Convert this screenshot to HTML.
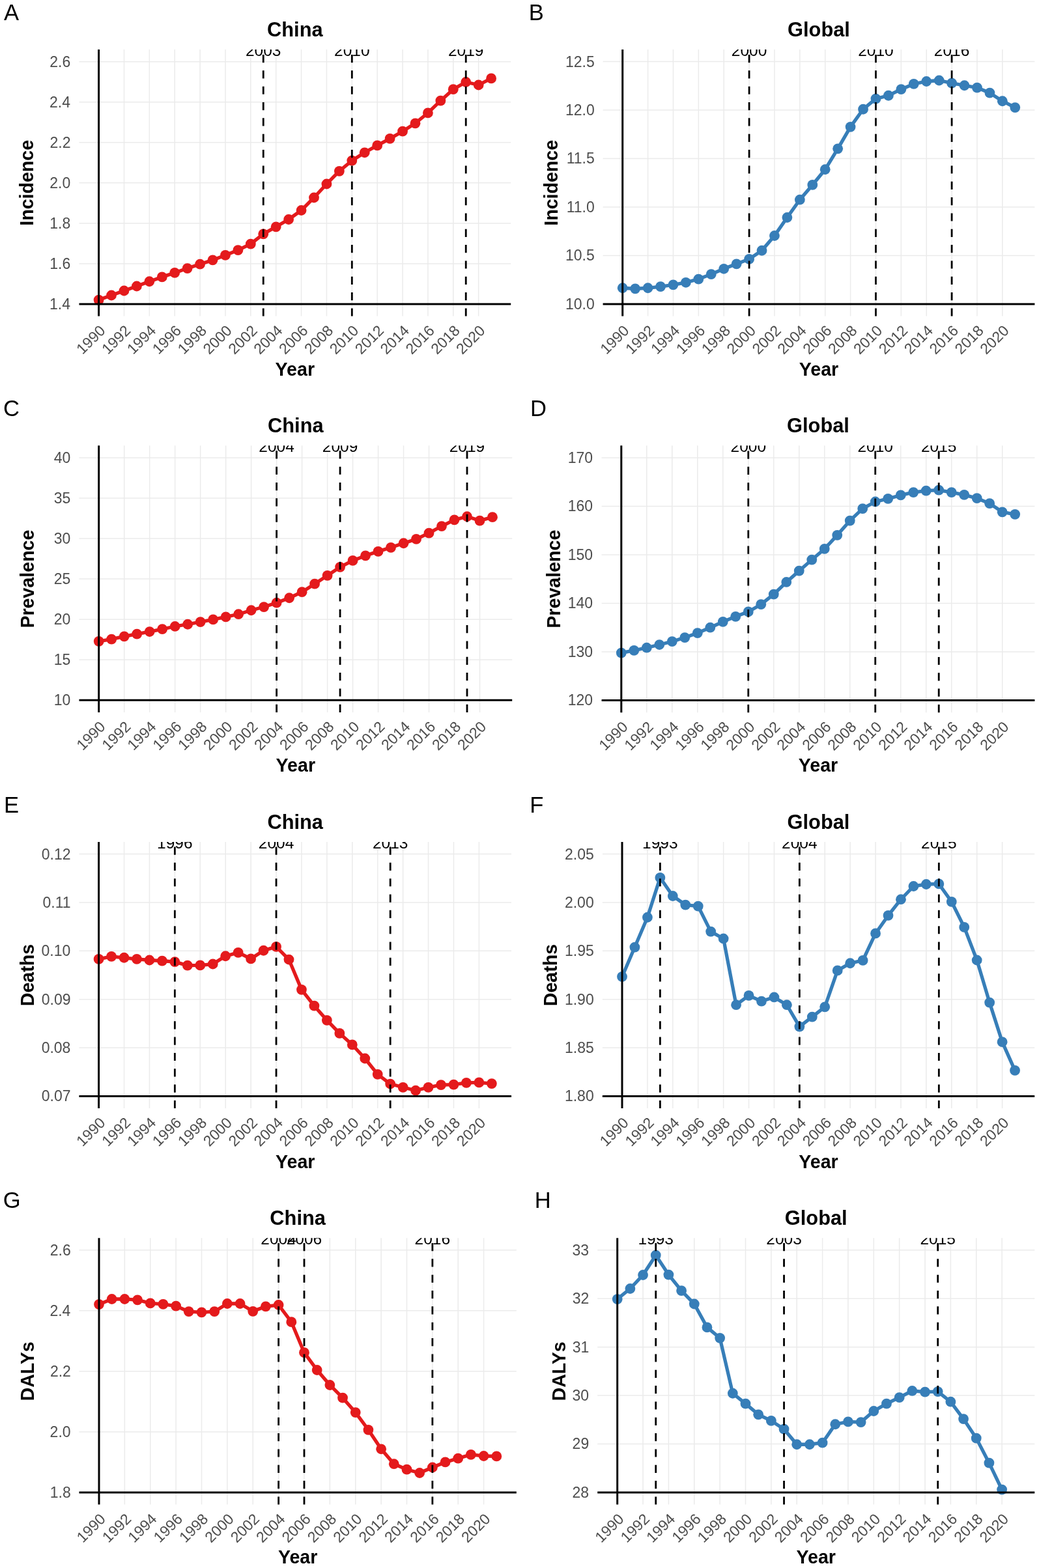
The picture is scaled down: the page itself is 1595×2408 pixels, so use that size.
<!DOCTYPE html>
<html><head><meta charset="utf-8"><title>Figure</title><style>html,body{margin:0;padding:0;background:#fff;overflow:hidden;}svg{display:block;}</style></head><body>
<svg width="1595" height="2408" viewBox="0 0 1595 2408" font-family="Liberation Sans, sans-serif">
<rect width="100%" height="100%" fill="#FFFFFF"/>
<defs><clipPath id="c0"><rect x="121.48" y="76.03" width="662.73" height="409.59"/></clipPath><clipPath id="c1"><rect x="925.57" y="75.98" width="662.84" height="409.64"/></clipPath><clipPath id="c2"><rect x="121.49" y="684.28" width="664.71" height="409.64"/></clipPath><clipPath id="c3"><rect x="923.58" y="684.27" width="664.81" height="409.86"/></clipPath><clipPath id="c4"><rect x="121.44" y="1293" width="663.59" height="409.09"/></clipPath><clipPath id="c5"><rect x="924.85" y="1293" width="663.35" height="409.09"/></clipPath><clipPath id="c6"><rect x="121.49" y="1901.19" width="671.33" height="409.42"/></clipPath><clipPath id="c7"><rect x="917.2" y="1901.19" width="671.09" height="409.42"/></clipPath></defs>
<g><path d="M121.48 467H784.21M121.48 404.94H784.21M121.48 342.88H784.21M121.48 280.82H784.21M121.48 218.77H784.21M121.48 156.71H784.21M121.48 94.65H784.21M151.6 76.03V485.62M190.47 76.03V485.62M229.34 76.03V485.62M268.21 76.03V485.62M307.08 76.03V485.62M345.95 76.03V485.62M384.82 76.03V485.62M423.69 76.03V485.62M462.56 76.03V485.62M501.43 76.03V485.62M540.3 76.03V485.62M579.17 76.03V485.62M618.04 76.03V485.62M656.91 76.03V485.62M695.78 76.03V485.62M734.65 76.03V485.62" stroke="#EBEBEB" stroke-width="1.5" fill="none"/><path d="M151.6 460.61 L171.03 453.5 L190.47 446.52 L209.9 439.51 L229.34 432.25 L248.77 425.42 L268.21 418.9 L287.64 412.08 L307.08 405.72 L326.51 399.36 L345.95 391.91 L365.38 384.15 L384.82 374.69 L404.25 359.33 L423.69 348.31 L443.12 336.99 L462.56 323.02 L482 303.48 L501.43 282.5 L520.87 262.83 L540.3 246.69 L559.74 234.28 L579.17 223.42 L598.61 212.87 L618.04 201.7 L637.47 189.29 L656.91 173.46 L676.35 154.69 L695.78 137.16 L715.22 125.99 L734.65 130.49 L754.09 120.4" stroke="#E41A1C" stroke-width="5.3" fill="none" stroke-linejoin="round" stroke-linecap="butt"/><g fill="#E41A1C"><circle cx="151.6" cy="460.61" r="7.9"/><circle cx="171.03" cy="453.5" r="7.9"/><circle cx="190.47" cy="446.52" r="7.9"/><circle cx="209.9" cy="439.51" r="7.9"/><circle cx="229.34" cy="432.25" r="7.9"/><circle cx="248.77" cy="425.42" r="7.9"/><circle cx="268.21" cy="418.9" r="7.9"/><circle cx="287.64" cy="412.08" r="7.9"/><circle cx="307.08" cy="405.72" r="7.9"/><circle cx="326.51" cy="399.36" r="7.9"/><circle cx="345.95" cy="391.91" r="7.9"/><circle cx="365.38" cy="384.15" r="7.9"/><circle cx="384.82" cy="374.69" r="7.9"/><circle cx="404.25" cy="359.33" r="7.9"/><circle cx="423.69" cy="348.31" r="7.9"/><circle cx="443.12" cy="336.99" r="7.9"/><circle cx="462.56" cy="323.02" r="7.9"/><circle cx="482" cy="303.48" r="7.9"/><circle cx="501.43" cy="282.5" r="7.9"/><circle cx="520.87" cy="262.83" r="7.9"/><circle cx="540.3" cy="246.69" r="7.9"/><circle cx="559.74" cy="234.28" r="7.9"/><circle cx="579.17" cy="223.42" r="7.9"/><circle cx="598.61" cy="212.87" r="7.9"/><circle cx="618.04" cy="201.7" r="7.9"/><circle cx="637.47" cy="189.29" r="7.9"/><circle cx="656.91" cy="173.46" r="7.9"/><circle cx="676.35" cy="154.69" r="7.9"/><circle cx="695.78" cy="137.16" r="7.9"/><circle cx="715.22" cy="125.99" r="7.9"/><circle cx="734.65" cy="130.49" r="7.9"/><circle cx="754.09" cy="120.4" r="7.9"/></g><g clip-path="url(#c0)"><g fill="#FFFFFF"><rect x="375.5" y="76.03" width="57.5" height="12"/><rect x="511.55" y="76.03" width="57.5" height="12"/><rect x="686.46" y="76.03" width="57.5" height="12"/></g><g font-size="24.5" text-anchor="middle" fill="#000000"><text x="404.25" y="86.03">2003</text><text x="540.3" y="86.03">2010</text><text x="715.22" y="86.03">2019</text></g></g><path d="M404.25 485.62V76.03M540.3 485.62V76.03M715.22 485.62V76.03" stroke="#000000" stroke-width="2.8" stroke-dasharray="12.17 12.17" fill="none"/><path d="M151.6 76.03V485.62M121.48 467H784.21" stroke="#000000" stroke-width="3.0" fill="none"/><g font-size="23.0" fill="#4D4D4D" text-anchor="end"><text x="107.97" y="474.91">1.4</text><text x="108.31" y="412.86">1.6</text><text x="108.3" y="350.8">1.8</text><text x="108.2" y="288.74">2.0</text><text x="108.46" y="226.8">2.2</text><text x="107.97" y="164.74">2.4</text><text x="108.31" y="102.57">2.6</text></g><g font-size="23.0" fill="#4D4D4D" text-anchor="end"><text transform="translate(163 509.12) rotate(-45)">1990</text><text transform="translate(201.87 509.12) rotate(-45)">1992</text><text transform="translate(240.74 509.12) rotate(-45)">1994</text><text transform="translate(279.61 509.12) rotate(-45)">1996</text><text transform="translate(318.48 509.12) rotate(-45)">1998</text><text transform="translate(357.35 509.12) rotate(-45)">2000</text><text transform="translate(396.22 509.12) rotate(-45)">2002</text><text transform="translate(435.09 509.12) rotate(-45)">2004</text><text transform="translate(473.96 509.12) rotate(-45)">2006</text><text transform="translate(512.83 509.12) rotate(-45)">2008</text><text transform="translate(551.7 509.12) rotate(-45)">2010</text><text transform="translate(590.57 509.12) rotate(-45)">2012</text><text transform="translate(629.44 509.12) rotate(-45)">2014</text><text transform="translate(668.31 509.12) rotate(-45)">2016</text><text transform="translate(707.18 509.12) rotate(-45)">2018</text><text transform="translate(746.05 509.12) rotate(-45)">2020</text></g><text x="452.84" y="55.9" font-size="30.8" font-weight="bold" text-anchor="middle">China</text><text x="452.84" y="577" font-size="28.6" font-weight="bold" text-anchor="middle">Year</text><text transform="translate(51.4 280.82) rotate(-90)" font-size="28.6" font-weight="bold" text-anchor="middle">Incidence</text><text x="6.03" y="30.9" font-size="34.6">A</text></g>
<g><path d="M925.57 467H1588.41M925.57 392.52H1588.41M925.57 318.04H1588.41M925.57 243.56H1588.41M925.57 169.08H1588.41M925.57 94.6H1588.41M955.7 75.98V485.62M994.58 75.98V485.62M1033.45 75.98V485.62M1072.33 75.98V485.62M1111.2 75.98V485.62M1150.08 75.98V485.62M1188.96 75.98V485.62M1227.83 75.98V485.62M1266.71 75.98V485.62M1305.58 75.98V485.62M1344.46 75.98V485.62M1383.34 75.98V485.62M1422.21 75.98V485.62M1461.09 75.98V485.62M1499.96 75.98V485.62M1538.84 75.98V485.62" stroke="#EBEBEB" stroke-width="1.5" fill="none"/><path d="M955.7 442.27 L975.14 443.32 L994.58 442.27 L1014.01 440.19 L1033.45 437.36 L1052.89 433.78 L1072.33 428.57 L1091.77 421.12 L1111.2 412.78 L1130.64 405.33 L1150.08 397.88 L1169.52 384.77 L1188.96 361.98 L1208.39 333.98 L1227.83 306.72 L1247.27 283.93 L1266.71 260.24 L1286.15 228.37 L1305.58 194.85 L1325.02 167.74 L1344.46 151.65 L1363.9 146.74 L1383.34 137.2 L1402.77 128.86 L1422.21 124.99 L1441.65 123.5 L1461.09 127.67 L1480.53 131.24 L1499.96 134.67 L1519.4 142.57 L1538.84 155.23 L1558.28 165.06" stroke="#377EB8" stroke-width="5.3" fill="none" stroke-linejoin="round" stroke-linecap="butt"/><g fill="#377EB8"><circle cx="955.7" cy="442.27" r="7.9"/><circle cx="975.14" cy="443.32" r="7.9"/><circle cx="994.58" cy="442.27" r="7.9"/><circle cx="1014.01" cy="440.19" r="7.9"/><circle cx="1033.45" cy="437.36" r="7.9"/><circle cx="1052.89" cy="433.78" r="7.9"/><circle cx="1072.33" cy="428.57" r="7.9"/><circle cx="1091.77" cy="421.12" r="7.9"/><circle cx="1111.2" cy="412.78" r="7.9"/><circle cx="1130.64" cy="405.33" r="7.9"/><circle cx="1150.08" cy="397.88" r="7.9"/><circle cx="1169.52" cy="384.77" r="7.9"/><circle cx="1188.96" cy="361.98" r="7.9"/><circle cx="1208.39" cy="333.98" r="7.9"/><circle cx="1227.83" cy="306.72" r="7.9"/><circle cx="1247.27" cy="283.93" r="7.9"/><circle cx="1266.71" cy="260.24" r="7.9"/><circle cx="1286.15" cy="228.37" r="7.9"/><circle cx="1305.58" cy="194.85" r="7.9"/><circle cx="1325.02" cy="167.74" r="7.9"/><circle cx="1344.46" cy="151.65" r="7.9"/><circle cx="1363.9" cy="146.74" r="7.9"/><circle cx="1383.34" cy="137.2" r="7.9"/><circle cx="1402.77" cy="128.86" r="7.9"/><circle cx="1422.21" cy="124.99" r="7.9"/><circle cx="1441.65" cy="123.5" r="7.9"/><circle cx="1461.09" cy="127.67" r="7.9"/><circle cx="1480.53" cy="131.24" r="7.9"/><circle cx="1499.96" cy="134.67" r="7.9"/><circle cx="1519.4" cy="142.57" r="7.9"/><circle cx="1538.84" cy="155.23" r="7.9"/><circle cx="1558.28" cy="165.06" r="7.9"/></g><g clip-path="url(#c1)"><g fill="#FFFFFF"><rect x="1121.33" y="75.98" width="57.5" height="12"/><rect x="1315.71" y="75.98" width="57.5" height="12"/><rect x="1432.34" y="75.98" width="57.5" height="12"/></g><g font-size="24.5" text-anchor="middle" fill="#000000"><text x="1150.08" y="85.98">2000</text><text x="1344.46" y="85.98">2010</text><text x="1461.09" y="85.98">2016</text></g></g><path d="M1150.08 485.62V75.98M1344.46 485.62V75.98M1461.09 485.62V75.98" stroke="#000000" stroke-width="2.8" stroke-dasharray="12.17 12.17" fill="none"/><path d="M955.7 75.98V485.62M925.57 467H1588.41" stroke="#000000" stroke-width="3.0" fill="none"/><g font-size="23.0" fill="#4D4D4D" text-anchor="end"><text x="912.7" y="474.92">10.0</text><text x="912.77" y="400.44">10.5</text><text x="912.7" y="325.96">11.0</text><text x="912.77" y="251.36">11.5</text><text x="912.7" y="177">12.0</text><text x="912.77" y="102.52">12.5</text></g><g font-size="23.0" fill="#4D4D4D" text-anchor="end"><text transform="translate(967.1 509.12) rotate(-45)">1990</text><text transform="translate(1005.98 509.12) rotate(-45)">1992</text><text transform="translate(1044.85 509.12) rotate(-45)">1994</text><text transform="translate(1083.73 509.12) rotate(-45)">1996</text><text transform="translate(1122.6 509.12) rotate(-45)">1998</text><text transform="translate(1161.48 509.12) rotate(-45)">2000</text><text transform="translate(1200.36 509.12) rotate(-45)">2002</text><text transform="translate(1239.23 509.12) rotate(-45)">2004</text><text transform="translate(1278.11 509.12) rotate(-45)">2006</text><text transform="translate(1316.98 509.12) rotate(-45)">2008</text><text transform="translate(1355.86 509.12) rotate(-45)">2010</text><text transform="translate(1394.74 509.12) rotate(-45)">2012</text><text transform="translate(1433.61 509.12) rotate(-45)">2014</text><text transform="translate(1472.49 509.12) rotate(-45)">2016</text><text transform="translate(1511.36 509.12) rotate(-45)">2018</text><text transform="translate(1550.24 509.12) rotate(-45)">2020</text></g><text x="1256.99" y="55.6" font-size="30.8" font-weight="bold" text-anchor="middle">Global</text><text x="1256.99" y="577" font-size="28.6" font-weight="bold" text-anchor="middle">Year</text><text transform="translate(856 280.8) rotate(-90)" font-size="28.6" font-weight="bold" text-anchor="middle">Incidence</text><text x="811.66" y="30.9" font-size="34.6">B</text></g>
<g><path d="M121.49 1075.3H786.2M121.49 1013.23H786.2M121.49 951.17H786.2M121.49 889.1H786.2M121.49 827.03H786.2M121.49 764.97H786.2M121.49 702.9H786.2M151.7 684.28V1093.92M190.69 684.28V1093.92M229.67 684.28V1093.92M268.66 684.28V1093.92M307.64 684.28V1093.92M346.63 684.28V1093.92M385.62 684.28V1093.92M424.6 684.28V1093.92M463.59 684.28V1093.92M502.57 684.28V1093.92M541.56 684.28V1093.92M580.55 684.28V1093.92M619.53 684.28V1093.92M658.52 684.28V1093.92M697.5 684.28V1093.92M736.49 684.28V1093.92" stroke="#EBEBEB" stroke-width="1.5" fill="none"/><path d="M151.7 984.81 L171.19 981.58 L190.69 977.36 L210.18 973.63 L229.67 970.03 L249.16 966.19 L268.66 961.97 L288.15 958.74 L307.64 955.14 L327.14 951.41 L346.63 947.44 L366.12 943.22 L385.62 937.26 L405.11 932.05 L424.6 925.72 L444.09 918.27 L463.59 909.21 L483.08 896.67 L502.57 883.89 L522.07 870.85 L541.56 860.92 L561.05 853.35 L580.55 846.89 L600.04 840.81 L619.53 834.23 L639.02 827.9 L658.52 818.59 L678.01 808.04 L697.5 798.36 L717 793.27 L736.49 799.6 L755.98 794.14" stroke="#E41A1C" stroke-width="5.3" fill="none" stroke-linejoin="round" stroke-linecap="butt"/><g fill="#E41A1C"><circle cx="151.7" cy="984.81" r="7.9"/><circle cx="171.19" cy="981.58" r="7.9"/><circle cx="190.69" cy="977.36" r="7.9"/><circle cx="210.18" cy="973.63" r="7.9"/><circle cx="229.67" cy="970.03" r="7.9"/><circle cx="249.16" cy="966.19" r="7.9"/><circle cx="268.66" cy="961.97" r="7.9"/><circle cx="288.15" cy="958.74" r="7.9"/><circle cx="307.64" cy="955.14" r="7.9"/><circle cx="327.14" cy="951.41" r="7.9"/><circle cx="346.63" cy="947.44" r="7.9"/><circle cx="366.12" cy="943.22" r="7.9"/><circle cx="385.62" cy="937.26" r="7.9"/><circle cx="405.11" cy="932.05" r="7.9"/><circle cx="424.6" cy="925.72" r="7.9"/><circle cx="444.09" cy="918.27" r="7.9"/><circle cx="463.59" cy="909.21" r="7.9"/><circle cx="483.08" cy="896.67" r="7.9"/><circle cx="502.57" cy="883.89" r="7.9"/><circle cx="522.07" cy="870.85" r="7.9"/><circle cx="541.56" cy="860.92" r="7.9"/><circle cx="561.05" cy="853.35" r="7.9"/><circle cx="580.55" cy="846.89" r="7.9"/><circle cx="600.04" cy="840.81" r="7.9"/><circle cx="619.53" cy="834.23" r="7.9"/><circle cx="639.02" cy="827.9" r="7.9"/><circle cx="658.52" cy="818.59" r="7.9"/><circle cx="678.01" cy="808.04" r="7.9"/><circle cx="697.5" cy="798.36" r="7.9"/><circle cx="717" cy="793.27" r="7.9"/><circle cx="736.49" cy="799.6" r="7.9"/><circle cx="755.98" cy="794.14" r="7.9"/></g><g clip-path="url(#c2)"><g fill="#FFFFFF"><rect x="395.85" y="684.28" width="57.5" height="12"/><rect x="493.32" y="684.28" width="57.5" height="12"/><rect x="688.25" y="684.28" width="57.5" height="12"/></g><g font-size="24.5" text-anchor="middle" fill="#000000"><text x="424.6" y="694.28">2004</text><text x="522.07" y="694.28">2009</text><text x="717" y="694.28">2019</text></g></g><path d="M424.6 1093.92V684.28M522.07 1093.92V684.28M717 1093.92V684.28" stroke="#000000" stroke-width="2.8" stroke-dasharray="12.17 12.17" fill="none"/><path d="M151.7 684.28V1093.92M121.49 1075.3H786.2" stroke="#000000" stroke-width="3.0" fill="none"/><g font-size="23.0" fill="#4D4D4D" text-anchor="end"><text x="108.3" y="1083.22">10</text><text x="108.37" y="1021.03">15</text><text x="108.3" y="959.08">20</text><text x="108.37" y="897.02">25</text><text x="108.3" y="834.95">30</text><text x="108.37" y="772.88">35</text><text x="108.3" y="710.82">40</text></g><g font-size="23.0" fill="#4D4D4D" text-anchor="end"><text transform="translate(163.1 1117.42) rotate(-45)">1990</text><text transform="translate(202.09 1117.42) rotate(-45)">1992</text><text transform="translate(241.07 1117.42) rotate(-45)">1994</text><text transform="translate(280.06 1117.42) rotate(-45)">1996</text><text transform="translate(319.04 1117.42) rotate(-45)">1998</text><text transform="translate(358.03 1117.42) rotate(-45)">2000</text><text transform="translate(397.02 1117.42) rotate(-45)">2002</text><text transform="translate(436 1117.42) rotate(-45)">2004</text><text transform="translate(474.99 1117.42) rotate(-45)">2006</text><text transform="translate(513.97 1117.42) rotate(-45)">2008</text><text transform="translate(552.96 1117.42) rotate(-45)">2010</text><text transform="translate(591.95 1117.42) rotate(-45)">2012</text><text transform="translate(630.93 1117.42) rotate(-45)">2014</text><text transform="translate(669.92 1117.42) rotate(-45)">2016</text><text transform="translate(708.9 1117.42) rotate(-45)">2018</text><text transform="translate(747.89 1117.42) rotate(-45)">2020</text></g><text x="453.84" y="664.2" font-size="30.8" font-weight="bold" text-anchor="middle">China</text><text x="453.84" y="1185.4" font-size="28.6" font-weight="bold" text-anchor="middle">Year</text><text transform="translate(51.6 889.1) rotate(-90)" font-size="28.6" font-weight="bold" text-anchor="middle">Prevalence</text><text x="5.04" y="638.8" font-size="34.6">C</text></g>
<g><path d="M923.58 1075.5H1588.39M923.58 1000.98H1588.39M923.58 926.46H1588.39M923.58 851.94H1588.39M923.58 777.42H1588.39M923.58 702.9H1588.39M953.8 684.27V1094.13M992.79 684.27V1094.13M1031.78 684.27V1094.13M1070.78 684.27V1094.13M1109.77 684.27V1094.13M1148.76 684.27V1094.13M1187.75 684.27V1094.13M1226.74 684.27V1094.13M1265.74 684.27V1094.13M1304.73 684.27V1094.13M1343.72 684.27V1094.13M1382.71 684.27V1094.13M1421.7 684.27V1094.13M1460.7 684.27V1094.13M1499.69 684.27V1094.13M1538.68 684.27V1094.13" stroke="#EBEBEB" stroke-width="1.5" fill="none"/><path d="M953.8 1002.69 L973.3 998.89 L992.79 994.72 L1012.29 990.03 L1031.78 985.18 L1051.28 979.07 L1070.78 972.14 L1090.27 963.72 L1109.77 954.85 L1129.26 946.8 L1148.76 939.43 L1168.26 928.17 L1187.75 912.6 L1207.25 893.97 L1226.74 876.68 L1246.24 859.62 L1265.74 842.92 L1285.23 821.83 L1304.73 799.63 L1324.22 781.07 L1343.72 770.49 L1363.22 765.87 L1382.71 760.43 L1402.21 756.11 L1421.7 753.57 L1441.2 752.6 L1460.7 756.11 L1480.19 759.91 L1499.69 765.2 L1519.18 773.17 L1538.68 786.29 L1558.18 789.86" stroke="#377EB8" stroke-width="5.3" fill="none" stroke-linejoin="round" stroke-linecap="butt"/><g fill="#377EB8"><circle cx="953.8" cy="1002.69" r="7.9"/><circle cx="973.3" cy="998.89" r="7.9"/><circle cx="992.79" cy="994.72" r="7.9"/><circle cx="1012.29" cy="990.03" r="7.9"/><circle cx="1031.78" cy="985.18" r="7.9"/><circle cx="1051.28" cy="979.07" r="7.9"/><circle cx="1070.78" cy="972.14" r="7.9"/><circle cx="1090.27" cy="963.72" r="7.9"/><circle cx="1109.77" cy="954.85" r="7.9"/><circle cx="1129.26" cy="946.8" r="7.9"/><circle cx="1148.76" cy="939.43" r="7.9"/><circle cx="1168.26" cy="928.17" r="7.9"/><circle cx="1187.75" cy="912.6" r="7.9"/><circle cx="1207.25" cy="893.97" r="7.9"/><circle cx="1226.74" cy="876.68" r="7.9"/><circle cx="1246.24" cy="859.62" r="7.9"/><circle cx="1265.74" cy="842.92" r="7.9"/><circle cx="1285.23" cy="821.83" r="7.9"/><circle cx="1304.73" cy="799.63" r="7.9"/><circle cx="1324.22" cy="781.07" r="7.9"/><circle cx="1343.72" cy="770.49" r="7.9"/><circle cx="1363.22" cy="765.87" r="7.9"/><circle cx="1382.71" cy="760.43" r="7.9"/><circle cx="1402.21" cy="756.11" r="7.9"/><circle cx="1421.7" cy="753.57" r="7.9"/><circle cx="1441.2" cy="752.6" r="7.9"/><circle cx="1460.7" cy="756.11" r="7.9"/><circle cx="1480.19" cy="759.91" r="7.9"/><circle cx="1499.69" cy="765.2" r="7.9"/><circle cx="1519.18" cy="773.17" r="7.9"/><circle cx="1538.68" cy="786.29" r="7.9"/><circle cx="1558.18" cy="789.86" r="7.9"/></g><g clip-path="url(#c3)"><g fill="#FFFFFF"><rect x="1120.01" y="684.27" width="57.5" height="12"/><rect x="1314.97" y="684.27" width="57.5" height="12"/><rect x="1412.45" y="684.27" width="57.5" height="12"/></g><g font-size="24.5" text-anchor="middle" fill="#000000"><text x="1148.76" y="694.27">2000</text><text x="1343.72" y="694.27">2010</text><text x="1441.2" y="694.27">2015</text></g></g><path d="M1148.76 1094.13V684.27M1343.72 1094.13V684.27M1441.2 1094.13V684.27" stroke="#000000" stroke-width="2.8" stroke-dasharray="12.17 12.17" fill="none"/><path d="M953.8 684.27V1094.13M923.58 1075.5H1588.39" stroke="#000000" stroke-width="3.0" fill="none"/><g font-size="23.0" fill="#4D4D4D" text-anchor="end"><text x="910" y="1083.42">120</text><text x="910" y="1008.9">130</text><text x="910" y="934.38">140</text><text x="910" y="859.86">150</text><text x="910" y="785.34">160</text><text x="910" y="710.82">170</text></g><g font-size="23.0" fill="#4D4D4D" text-anchor="end"><text transform="translate(965.2 1117.63) rotate(-45)">1990</text><text transform="translate(1004.19 1117.63) rotate(-45)">1992</text><text transform="translate(1043.18 1117.63) rotate(-45)">1994</text><text transform="translate(1082.18 1117.63) rotate(-45)">1996</text><text transform="translate(1121.17 1117.63) rotate(-45)">1998</text><text transform="translate(1160.16 1117.63) rotate(-45)">2000</text><text transform="translate(1199.15 1117.63) rotate(-45)">2002</text><text transform="translate(1238.14 1117.63) rotate(-45)">2004</text><text transform="translate(1277.14 1117.63) rotate(-45)">2006</text><text transform="translate(1316.13 1117.63) rotate(-45)">2008</text><text transform="translate(1355.12 1117.63) rotate(-45)">2010</text><text transform="translate(1394.11 1117.63) rotate(-45)">2012</text><text transform="translate(1433.1 1117.63) rotate(-45)">2014</text><text transform="translate(1472.1 1117.63) rotate(-45)">2016</text><text transform="translate(1511.09 1117.63) rotate(-45)">2018</text><text transform="translate(1550.08 1117.63) rotate(-45)">2020</text></g><text x="1255.99" y="664.2" font-size="30.8" font-weight="bold" text-anchor="middle">Global</text><text x="1255.99" y="1185.4" font-size="28.6" font-weight="bold" text-anchor="middle">Year</text><text transform="translate(860 889.2) rotate(-90)" font-size="28.6" font-weight="bold" text-anchor="middle">Prevalence</text><text x="814.06" y="638.8" font-size="34.6">D</text></g>
<g><path d="M121.44 1683.5H785.02M121.44 1609.12H785.02M121.44 1534.74H785.02M121.44 1460.36H785.02M121.44 1385.98H785.02M121.44 1311.6H785.02M151.6 1293V1702.1M190.52 1293V1702.1M229.44 1293V1702.1M268.36 1293V1702.1M307.28 1293V1702.1M346.2 1293V1702.1M385.12 1293V1702.1M424.04 1293V1702.1M462.96 1293V1702.1M501.88 1293V1702.1M540.8 1293V1702.1M579.72 1293V1702.1M618.64 1293V1702.1M657.56 1293V1702.1M696.48 1293V1702.1M735.4 1293V1702.1" stroke="#EBEBEB" stroke-width="1.5" fill="none"/><path d="M151.6 1472.93 L171.06 1468.91 L190.52 1470.77 L209.98 1472.93 L229.44 1474.49 L248.9 1475.61 L268.36 1477.1 L287.82 1482.6 L307.28 1482.38 L326.74 1480.52 L346.2 1468.24 L365.66 1462.89 L385.12 1472.41 L404.58 1459.76 L424.04 1453.89 L443.5 1473.53 L462.96 1519.86 L482.42 1544.63 L501.88 1566.8 L521.34 1586.88 L540.8 1604.43 L560.26 1625.48 L579.72 1649.81 L599.18 1664.53 L618.64 1669.81 L638.1 1674.72 L657.56 1669.81 L677.02 1666.17 L696.48 1665.57 L715.94 1662.9 L735.4 1662.38 L754.86 1664.09" stroke="#E41A1C" stroke-width="5.3" fill="none" stroke-linejoin="round" stroke-linecap="butt"/><g fill="#E41A1C"><circle cx="151.6" cy="1472.93" r="7.9"/><circle cx="171.06" cy="1468.91" r="7.9"/><circle cx="190.52" cy="1470.77" r="7.9"/><circle cx="209.98" cy="1472.93" r="7.9"/><circle cx="229.44" cy="1474.49" r="7.9"/><circle cx="248.9" cy="1475.61" r="7.9"/><circle cx="268.36" cy="1477.1" r="7.9"/><circle cx="287.82" cy="1482.6" r="7.9"/><circle cx="307.28" cy="1482.38" r="7.9"/><circle cx="326.74" cy="1480.52" r="7.9"/><circle cx="346.2" cy="1468.24" r="7.9"/><circle cx="365.66" cy="1462.89" r="7.9"/><circle cx="385.12" cy="1472.41" r="7.9"/><circle cx="404.58" cy="1459.76" r="7.9"/><circle cx="424.04" cy="1453.89" r="7.9"/><circle cx="443.5" cy="1473.53" r="7.9"/><circle cx="462.96" cy="1519.86" r="7.9"/><circle cx="482.42" cy="1544.63" r="7.9"/><circle cx="501.88" cy="1566.8" r="7.9"/><circle cx="521.34" cy="1586.88" r="7.9"/><circle cx="540.8" cy="1604.43" r="7.9"/><circle cx="560.26" cy="1625.48" r="7.9"/><circle cx="579.72" cy="1649.81" r="7.9"/><circle cx="599.18" cy="1664.53" r="7.9"/><circle cx="618.64" cy="1669.81" r="7.9"/><circle cx="638.1" cy="1674.72" r="7.9"/><circle cx="657.56" cy="1669.81" r="7.9"/><circle cx="677.02" cy="1666.17" r="7.9"/><circle cx="696.48" cy="1665.57" r="7.9"/><circle cx="715.94" cy="1662.9" r="7.9"/><circle cx="735.4" cy="1662.38" r="7.9"/><circle cx="754.86" cy="1664.09" r="7.9"/></g><g clip-path="url(#c4)"><g fill="#FFFFFF"><rect x="239.61" y="1293" width="57.5" height="12"/><rect x="395.29" y="1293" width="57.5" height="12"/><rect x="570.43" y="1293" width="57.5" height="12"/></g><g font-size="24.5" text-anchor="middle" fill="#000000"><text x="268.36" y="1303">1996</text><text x="424.04" y="1303">2004</text><text x="599.18" y="1303">2013</text></g></g><path d="M268.36 1702.1V1293M424.04 1702.1V1293M599.18 1702.1V1293" stroke="#000000" stroke-width="2.8" stroke-dasharray="12.17 12.17" fill="none"/><path d="M151.6 1293V1702.1M121.44 1683.5H785.02" stroke="#000000" stroke-width="3.0" fill="none"/><g font-size="23.0" fill="#4D4D4D" text-anchor="end"><text x="108.56" y="1691.42">0.07</text><text x="108.4" y="1617.04">0.08</text><text x="108.49" y="1542.66">0.09</text><text x="108.3" y="1468.28">0.10</text><text x="108.52" y="1393.9">0.11</text><text x="108.56" y="1319.52">0.12</text></g><g font-size="23.0" fill="#4D4D4D" text-anchor="end"><text transform="translate(163 1725.6) rotate(-45)">1990</text><text transform="translate(201.92 1725.6) rotate(-45)">1992</text><text transform="translate(240.84 1725.6) rotate(-45)">1994</text><text transform="translate(279.76 1725.6) rotate(-45)">1996</text><text transform="translate(318.68 1725.6) rotate(-45)">1998</text><text transform="translate(357.6 1725.6) rotate(-45)">2000</text><text transform="translate(396.52 1725.6) rotate(-45)">2002</text><text transform="translate(435.44 1725.6) rotate(-45)">2004</text><text transform="translate(474.36 1725.6) rotate(-45)">2006</text><text transform="translate(513.28 1725.6) rotate(-45)">2008</text><text transform="translate(552.2 1725.6) rotate(-45)">2010</text><text transform="translate(591.12 1725.6) rotate(-45)">2012</text><text transform="translate(630.04 1725.6) rotate(-45)">2014</text><text transform="translate(668.96 1725.6) rotate(-45)">2016</text><text transform="translate(707.88 1725.6) rotate(-45)">2018</text><text transform="translate(746.8 1725.6) rotate(-45)">2020</text></g><text x="453.23" y="1272.6" font-size="30.8" font-weight="bold" text-anchor="middle">China</text><text x="453.23" y="1793.8" font-size="28.6" font-weight="bold" text-anchor="middle">Year</text><text transform="translate(51.6 1497.55) rotate(-90)" font-size="28.6" font-weight="bold" text-anchor="middle">Deaths</text><text x="5.96" y="1247.5" font-size="34.6">E</text></g>
<g><path d="M924.85 1683.5H1588.2M924.85 1609.12H1588.2M924.85 1534.74H1588.2M924.85 1460.36H1588.2M924.85 1385.98H1588.2M924.85 1311.6H1588.2M955 1293V1702.1M993.91 1293V1702.1M1032.81 1293V1702.1M1071.72 1293V1702.1M1110.62 1293V1702.1M1149.53 1293V1702.1M1188.44 1293V1702.1M1227.34 1293V1702.1M1266.25 1293V1702.1M1305.15 1293V1702.1M1344.06 1293V1702.1M1382.97 1293V1702.1M1421.87 1293V1702.1M1460.78 1293V1702.1M1499.68 1293V1702.1M1538.59 1293V1702.1" stroke="#EBEBEB" stroke-width="1.5" fill="none"/><path d="M955 1499.93 L974.45 1454.56 L993.91 1408.74 L1013.36 1347.9 L1032.81 1376.01 L1052.27 1389.55 L1071.72 1391.63 L1091.17 1430.61 L1110.62 1441.47 L1130.08 1543.22 L1149.53 1528.94 L1168.98 1537.57 L1188.44 1531.47 L1207.89 1543.22 L1227.34 1576.54 L1246.8 1561.67 L1266.25 1546.34 L1285.7 1490.41 L1305.15 1479.25 L1324.61 1474.94 L1344.06 1433.43 L1363.51 1405.91 L1382.97 1381.22 L1402.42 1360.99 L1421.87 1358.01 L1441.33 1357.42 L1460.78 1384.79 L1480.23 1423.91 L1499.68 1474.49 L1519.14 1539.65 L1538.59 1600.19 L1558.04 1643.93" stroke="#377EB8" stroke-width="5.3" fill="none" stroke-linejoin="round" stroke-linecap="butt"/><g fill="#377EB8"><circle cx="955" cy="1499.93" r="7.9"/><circle cx="974.45" cy="1454.56" r="7.9"/><circle cx="993.91" cy="1408.74" r="7.9"/><circle cx="1013.36" cy="1347.9" r="7.9"/><circle cx="1032.81" cy="1376.01" r="7.9"/><circle cx="1052.27" cy="1389.55" r="7.9"/><circle cx="1071.72" cy="1391.63" r="7.9"/><circle cx="1091.17" cy="1430.61" r="7.9"/><circle cx="1110.62" cy="1441.47" r="7.9"/><circle cx="1130.08" cy="1543.22" r="7.9"/><circle cx="1149.53" cy="1528.94" r="7.9"/><circle cx="1168.98" cy="1537.57" r="7.9"/><circle cx="1188.44" cy="1531.47" r="7.9"/><circle cx="1207.89" cy="1543.22" r="7.9"/><circle cx="1227.34" cy="1576.54" r="7.9"/><circle cx="1246.8" cy="1561.67" r="7.9"/><circle cx="1266.25" cy="1546.34" r="7.9"/><circle cx="1285.7" cy="1490.41" r="7.9"/><circle cx="1305.15" cy="1479.25" r="7.9"/><circle cx="1324.61" cy="1474.94" r="7.9"/><circle cx="1344.06" cy="1433.43" r="7.9"/><circle cx="1363.51" cy="1405.91" r="7.9"/><circle cx="1382.97" cy="1381.22" r="7.9"/><circle cx="1402.42" cy="1360.99" r="7.9"/><circle cx="1421.87" cy="1358.01" r="7.9"/><circle cx="1441.33" cy="1357.42" r="7.9"/><circle cx="1460.78" cy="1384.79" r="7.9"/><circle cx="1480.23" cy="1423.91" r="7.9"/><circle cx="1499.68" cy="1474.49" r="7.9"/><circle cx="1519.14" cy="1539.65" r="7.9"/><circle cx="1538.59" cy="1600.19" r="7.9"/><circle cx="1558.04" cy="1643.93" r="7.9"/></g><g clip-path="url(#c5)"><g fill="#FFFFFF"><rect x="984.61" y="1293" width="57.5" height="12"/><rect x="1198.59" y="1293" width="57.5" height="12"/><rect x="1412.57" y="1293" width="57.5" height="12"/></g><g font-size="24.5" text-anchor="middle" fill="#000000"><text x="1013.36" y="1303">1993</text><text x="1227.34" y="1303">2004</text><text x="1441.33" y="1303">2015</text></g></g><path d="M1013.36 1702.1V1293M1227.34 1702.1V1293M1441.33 1702.1V1293" stroke="#000000" stroke-width="2.8" stroke-dasharray="12.17 12.17" fill="none"/><path d="M955 1293V1702.1M924.85 1683.5H1588.2" stroke="#000000" stroke-width="3.0" fill="none"/><g font-size="23.0" fill="#4D4D4D" text-anchor="end"><text x="911.7" y="1691.42">1.80</text><text x="911.77" y="1617.04">1.85</text><text x="911.7" y="1542.66">1.90</text><text x="911.77" y="1468.28">1.95</text><text x="911.7" y="1393.9">2.00</text><text x="911.77" y="1319.52">2.05</text></g><g font-size="23.0" fill="#4D4D4D" text-anchor="end"><text transform="translate(966.4 1725.6) rotate(-45)">1990</text><text transform="translate(1005.31 1725.6) rotate(-45)">1992</text><text transform="translate(1044.21 1725.6) rotate(-45)">1994</text><text transform="translate(1083.12 1725.6) rotate(-45)">1996</text><text transform="translate(1122.02 1725.6) rotate(-45)">1998</text><text transform="translate(1160.93 1725.6) rotate(-45)">2000</text><text transform="translate(1199.84 1725.6) rotate(-45)">2002</text><text transform="translate(1238.74 1725.6) rotate(-45)">2004</text><text transform="translate(1277.65 1725.6) rotate(-45)">2006</text><text transform="translate(1316.55 1725.6) rotate(-45)">2008</text><text transform="translate(1355.46 1725.6) rotate(-45)">2010</text><text transform="translate(1394.37 1725.6) rotate(-45)">2012</text><text transform="translate(1433.27 1725.6) rotate(-45)">2014</text><text transform="translate(1472.18 1725.6) rotate(-45)">2016</text><text transform="translate(1511.08 1725.6) rotate(-45)">2018</text><text transform="translate(1549.99 1725.6) rotate(-45)">2020</text></g><text x="1256.52" y="1272.6" font-size="30.8" font-weight="bold" text-anchor="middle">Global</text><text x="1256.52" y="1793.8" font-size="28.6" font-weight="bold" text-anchor="middle">Year</text><text transform="translate(855 1497.55) rotate(-90)" font-size="28.6" font-weight="bold" text-anchor="middle">Deaths</text><text x="813.26" y="1247.5" font-size="34.6">F</text></g>
<g><path d="M121.49 2292H792.81M121.49 2198.95H792.81M121.49 2105.9H792.81M121.49 2012.85H792.81M121.49 1919.8H792.81M152 1901.19V2310.61M191.37 1901.19V2310.61M230.75 1901.19V2310.61M270.12 1901.19V2310.61M309.5 1901.19V2310.61M348.87 1901.19V2310.61M388.24 1901.19V2310.61M427.62 1901.19V2310.61M466.99 1901.19V2310.61M506.37 1901.19V2310.61M545.74 1901.19V2310.61M585.11 1901.19V2310.61M624.49 1901.19V2310.61M663.86 1901.19V2310.61M703.24 1901.19V2310.61M742.61 1901.19V2310.61" stroke="#EBEBEB" stroke-width="1.5" fill="none"/><path d="M152 2003.08 L171.69 1994.98 L191.37 1994.98 L211.06 1996.29 L230.75 2001.4 L250.44 2002.89 L270.12 2005.69 L289.81 2014.2 L309.5 2015.32 L329.18 2014.2 L348.87 2002.01 L368.56 2002.01 L388.24 2013.83 L407.93 2006.29 L427.62 2004.01 L447.31 2030.2 L466.99 2077.19 L486.68 2103.99 L506.37 2126.98 L526.05 2146.7 L545.74 2169.08 L565.43 2195.79 L585.11 2225.28 L604.8 2248.22 L624.49 2256.69 L644.17 2261.99 L663.86 2253.48 L683.55 2245.43 L703.24 2239.61 L722.92 2233.8 L742.61 2235.98 L762.3 2236.4" stroke="#E41A1C" stroke-width="5.3" fill="none" stroke-linejoin="round" stroke-linecap="butt"/><g fill="#E41A1C"><circle cx="152" cy="2003.08" r="7.9"/><circle cx="171.69" cy="1994.98" r="7.9"/><circle cx="191.37" cy="1994.98" r="7.9"/><circle cx="211.06" cy="1996.29" r="7.9"/><circle cx="230.75" cy="2001.4" r="7.9"/><circle cx="250.44" cy="2002.89" r="7.9"/><circle cx="270.12" cy="2005.69" r="7.9"/><circle cx="289.81" cy="2014.2" r="7.9"/><circle cx="309.5" cy="2015.32" r="7.9"/><circle cx="329.18" cy="2014.2" r="7.9"/><circle cx="348.87" cy="2002.01" r="7.9"/><circle cx="368.56" cy="2002.01" r="7.9"/><circle cx="388.24" cy="2013.83" r="7.9"/><circle cx="407.93" cy="2006.29" r="7.9"/><circle cx="427.62" cy="2004.01" r="7.9"/><circle cx="447.31" cy="2030.2" r="7.9"/><circle cx="466.99" cy="2077.19" r="7.9"/><circle cx="486.68" cy="2103.99" r="7.9"/><circle cx="506.37" cy="2126.98" r="7.9"/><circle cx="526.05" cy="2146.7" r="7.9"/><circle cx="545.74" cy="2169.08" r="7.9"/><circle cx="565.43" cy="2195.79" r="7.9"/><circle cx="585.11" cy="2225.28" r="7.9"/><circle cx="604.8" cy="2248.22" r="7.9"/><circle cx="624.49" cy="2256.69" r="7.9"/><circle cx="644.17" cy="2261.99" r="7.9"/><circle cx="663.86" cy="2253.48" r="7.9"/><circle cx="683.55" cy="2245.43" r="7.9"/><circle cx="703.24" cy="2239.61" r="7.9"/><circle cx="722.92" cy="2233.8" r="7.9"/><circle cx="742.61" cy="2235.98" r="7.9"/><circle cx="762.3" cy="2236.4" r="7.9"/></g><g clip-path="url(#c6)"><g fill="#FFFFFF"><rect x="398.87" y="1901.19" width="57.5" height="12"/><rect x="438.24" y="1901.19" width="57.5" height="12"/><rect x="635.11" y="1901.19" width="57.5" height="12"/></g><g font-size="24.5" text-anchor="middle" fill="#000000"><text x="427.62" y="1911.19">2004</text><text x="466.99" y="1911.19">2006</text><text x="663.86" y="1911.19">2016</text></g></g><path d="M427.62 2310.61V1901.19M466.99 2310.61V1901.19M663.86 2310.61V1901.19" stroke="#000000" stroke-width="2.8" stroke-dasharray="12.17 12.17" fill="none"/><path d="M152 1901.19V2310.61M121.49 2292H792.81" stroke="#000000" stroke-width="3.0" fill="none"/><g font-size="23.0" fill="#4D4D4D" text-anchor="end"><text x="108.7" y="2299.92">1.8</text><text x="108.6" y="2206.87">2.0</text><text x="108.86" y="2113.93">2.2</text><text x="108.37" y="2020.88">2.4</text><text x="108.71" y="1927.72">2.6</text></g><g font-size="23.0" fill="#4D4D4D" text-anchor="end"><text transform="translate(163.4 2334.11) rotate(-45)">1990</text><text transform="translate(202.77 2334.11) rotate(-45)">1992</text><text transform="translate(242.15 2334.11) rotate(-45)">1994</text><text transform="translate(281.52 2334.11) rotate(-45)">1996</text><text transform="translate(320.9 2334.11) rotate(-45)">1998</text><text transform="translate(360.27 2334.11) rotate(-45)">2000</text><text transform="translate(399.64 2334.11) rotate(-45)">2002</text><text transform="translate(439.02 2334.11) rotate(-45)">2004</text><text transform="translate(478.39 2334.11) rotate(-45)">2006</text><text transform="translate(517.77 2334.11) rotate(-45)">2008</text><text transform="translate(557.14 2334.11) rotate(-45)">2010</text><text transform="translate(596.51 2334.11) rotate(-45)">2012</text><text transform="translate(635.89 2334.11) rotate(-45)">2014</text><text transform="translate(675.26 2334.11) rotate(-45)">2016</text><text transform="translate(714.64 2334.11) rotate(-45)">2018</text><text transform="translate(754.01 2334.11) rotate(-45)">2020</text></g><text x="457.15" y="1880.9" font-size="30.8" font-weight="bold" text-anchor="middle">China</text><text x="457.15" y="2401.3" font-size="28.6" font-weight="bold" text-anchor="middle">Year</text><text transform="translate(51.6 2105.9) rotate(-90)" font-size="28.6" font-weight="bold" text-anchor="middle">DALYs</text><text x="4.66" y="1854.5" font-size="34.6">G</text></g>
<g><path d="M917.2 2292H1588.28M917.2 2217.56H1588.28M917.2 2143.12H1588.28M917.2 2068.68H1588.28M917.2 1994.24H1588.28M917.2 1919.8H1588.28M947.7 1901.19V2310.61M987.06 1901.19V2310.61M1026.42 1901.19V2310.61M1065.78 1901.19V2310.61M1105.14 1901.19V2310.61M1144.5 1901.19V2310.61M1183.86 1901.19V2310.61M1223.22 1901.19V2310.61M1262.58 1901.19V2310.61M1301.94 1901.19V2310.61M1341.3 1901.19V2310.61M1380.66 1901.19V2310.61M1420.02 1901.19V2310.61M1459.38 1901.19V2310.61M1498.74 1901.19V2310.61M1538.1 1901.19V2310.61" stroke="#EBEBEB" stroke-width="1.5" fill="none"/><path d="M947.7 1995.06 L967.38 1978.98 L987.06 1957.99 L1006.74 1927.69 L1026.42 1957.54 L1046.1 1982.18 L1065.78 2002.5 L1085.46 2038.38 L1105.14 2054.83 L1124.82 2139.77 L1144.5 2155.63 L1164.18 2172.3 L1183.86 2181.9 L1203.54 2194.71 L1223.22 2218.23 L1242.9 2218.23 L1262.58 2215.7 L1282.26 2187.26 L1301.94 2183.39 L1321.62 2184.06 L1341.3 2167.02 L1360.98 2155.63 L1380.66 2146.17 L1400.34 2135.97 L1420.02 2137.69 L1439.7 2137.09 L1459.38 2152.72 L1479.06 2179.07 L1498.74 2208.63 L1518.42 2246.67 L1538.1 2287.68" stroke="#377EB8" stroke-width="5.3" fill="none" stroke-linejoin="round" stroke-linecap="butt"/><g fill="#377EB8"><circle cx="947.7" cy="1995.06" r="7.9"/><circle cx="967.38" cy="1978.98" r="7.9"/><circle cx="987.06" cy="1957.99" r="7.9"/><circle cx="1006.74" cy="1927.69" r="7.9"/><circle cx="1026.42" cy="1957.54" r="7.9"/><circle cx="1046.1" cy="1982.18" r="7.9"/><circle cx="1065.78" cy="2002.5" r="7.9"/><circle cx="1085.46" cy="2038.38" r="7.9"/><circle cx="1105.14" cy="2054.83" r="7.9"/><circle cx="1124.82" cy="2139.77" r="7.9"/><circle cx="1144.5" cy="2155.63" r="7.9"/><circle cx="1164.18" cy="2172.3" r="7.9"/><circle cx="1183.86" cy="2181.9" r="7.9"/><circle cx="1203.54" cy="2194.71" r="7.9"/><circle cx="1223.22" cy="2218.23" r="7.9"/><circle cx="1242.9" cy="2218.23" r="7.9"/><circle cx="1262.58" cy="2215.7" r="7.9"/><circle cx="1282.26" cy="2187.26" r="7.9"/><circle cx="1301.94" cy="2183.39" r="7.9"/><circle cx="1321.62" cy="2184.06" r="7.9"/><circle cx="1341.3" cy="2167.02" r="7.9"/><circle cx="1360.98" cy="2155.63" r="7.9"/><circle cx="1380.66" cy="2146.17" r="7.9"/><circle cx="1400.34" cy="2135.97" r="7.9"/><circle cx="1420.02" cy="2137.69" r="7.9"/><circle cx="1439.7" cy="2137.09" r="7.9"/><circle cx="1459.38" cy="2152.72" r="7.9"/><circle cx="1479.06" cy="2179.07" r="7.9"/><circle cx="1498.74" cy="2208.63" r="7.9"/><circle cx="1518.42" cy="2246.67" r="7.9"/><circle cx="1538.1" cy="2287.68" r="7.9"/></g><g clip-path="url(#c7)"><g fill="#FFFFFF"><rect x="977.99" y="1901.19" width="57.5" height="12"/><rect x="1174.79" y="1901.19" width="57.5" height="12"/><rect x="1410.95" y="1901.19" width="57.5" height="12"/></g><g font-size="24.5" text-anchor="middle" fill="#000000"><text x="1006.74" y="1911.19">1993</text><text x="1203.54" y="1911.19">2003</text><text x="1439.7" y="1911.19">2015</text></g></g><path d="M1006.74 2310.61V1901.19M1203.54 2310.61V1901.19M1439.7 2310.61V1901.19" stroke="#000000" stroke-width="2.8" stroke-dasharray="12.17 12.17" fill="none"/><path d="M947.7 1901.19V2310.61M917.2 2292H1588.28" stroke="#000000" stroke-width="3.0" fill="none"/><g font-size="23.0" fill="#4D4D4D" text-anchor="end"><text x="904.1" y="2299.92">28</text><text x="904.19" y="2225.48">29</text><text x="904" y="2151.04">30</text><text x="904.22" y="2076.6">31</text><text x="904.26" y="2002.16">32</text><text x="904.11" y="1927.72">33</text></g><g font-size="23.0" fill="#4D4D4D" text-anchor="end"><text transform="translate(959.1 2334.11) rotate(-45)">1990</text><text transform="translate(998.46 2334.11) rotate(-45)">1992</text><text transform="translate(1037.82 2334.11) rotate(-45)">1994</text><text transform="translate(1077.18 2334.11) rotate(-45)">1996</text><text transform="translate(1116.54 2334.11) rotate(-45)">1998</text><text transform="translate(1155.9 2334.11) rotate(-45)">2000</text><text transform="translate(1195.26 2334.11) rotate(-45)">2002</text><text transform="translate(1234.62 2334.11) rotate(-45)">2004</text><text transform="translate(1273.98 2334.11) rotate(-45)">2006</text><text transform="translate(1313.34 2334.11) rotate(-45)">2008</text><text transform="translate(1352.7 2334.11) rotate(-45)">2010</text><text transform="translate(1392.06 2334.11) rotate(-45)">2012</text><text transform="translate(1431.42 2334.11) rotate(-45)">2014</text><text transform="translate(1470.78 2334.11) rotate(-45)">2016</text><text transform="translate(1510.14 2334.11) rotate(-45)">2018</text><text transform="translate(1549.5 2334.11) rotate(-45)">2020</text></g><text x="1252.74" y="1880.9" font-size="30.8" font-weight="bold" text-anchor="middle">Global</text><text x="1252.74" y="2401" font-size="28.6" font-weight="bold" text-anchor="middle">Year</text><text transform="translate(867.6 2105.9) rotate(-90)" font-size="28.6" font-weight="bold" text-anchor="middle">DALYs</text><text x="820.66" y="1854.5" font-size="34.6">H</text></g>
</svg>
</body></html>
